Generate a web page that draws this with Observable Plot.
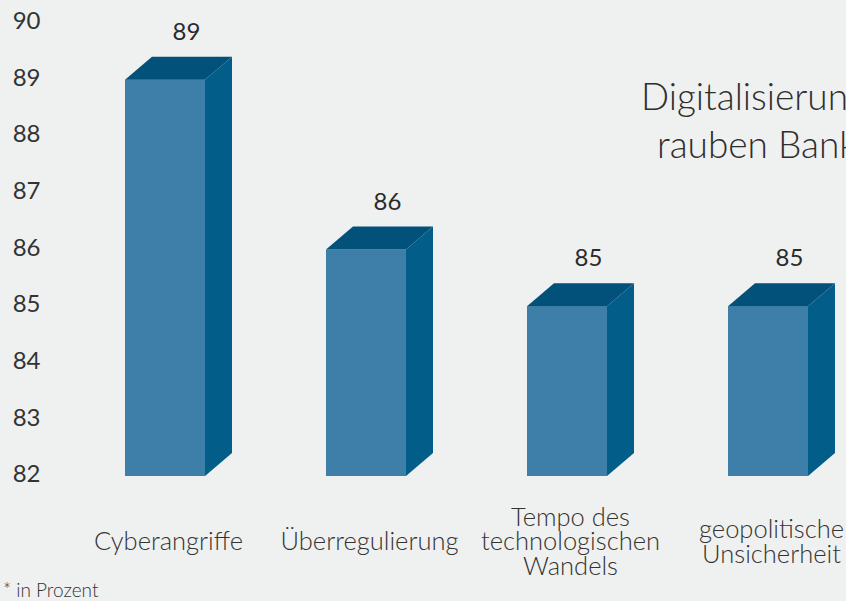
<!DOCTYPE html>
<html>
<head>
<meta charset="utf-8">
<script src="https://cdn.jsdelivr.net/npm/d3@7"></script>
<script src="https://cdn.jsdelivr.net/npm/@observablehq/plot@0.6"></script>
<style>
  html, body { margin: 0; padding: 0; background: #eff0f0; }
  #wrap { position: relative; width: 846px; height: 601px; overflow: hidden; background: #eff0f0; }
  #title { position: absolute; left: 641px; top: 72px; font-family: Lato, sans-serif; font-weight: 300;
           font-size: 37px; line-height: 48px; color: #2e2e2e; white-space: nowrap; }
  #note { position: absolute; left: 3px; top: 579px; font-family: Lato, sans-serif; font-weight: 300;
          font-size: 19px; line-height: 22px; color: #333; }
</style>
</head>
<body>
<div id="wrap">
  <div id="chart"></div>
  <div id="title"><div>Digitalisierung</div><div style="padding-left:16px">rauben Banken</div></div>
  <div id="note">* in Prozent</div>
</div>
<script>
const categories = ["Cyberangriffe", "Überregulierung", "Tempo des technologischen Wandels", "geopolitische Unsicherheit"];
const categoryLabels = ["Cyberangriffe", "Überregulierung", "Tempo des\ntechnologischen\nWandels", "geopolitische\nUnsicherheit"];
const values = [89, 86, 85, 85];
const yTicks = [82, 83, 84, 85, 86, 87, 88, 89, 90];

const data = categories.map((c, i) => ({category: c, label: categoryLabels[i], value: values[i]}));
const base = yTicks[0];

const FRONT = "#3d7fa8", TOP = "#01517a", SIDE = "#035d89";
const DEPTH_X = 27, DEPTH_Y = 23;

function faces(index, scales, vals) {
  const bw = scales.x.bandwidth();
  const g = d3.create("svg:g");
  for (const i of index) {
    const x0 = vals.x[i], x1 = x0 + bw;
    const yt = Math.min(vals.y1[i], vals.y2[i]);
    const yb = Math.max(vals.y1[i], vals.y2[i]);
    g.append("polygon")
      .attr("points", [[x0, yt], [x0 + DEPTH_X, yt - DEPTH_Y], [x1 + DEPTH_X, yt - DEPTH_Y], [x1, yt]].join(" "))
      .attr("fill", TOP);
    g.append("polygon")
      .attr("points", [[x1, yt], [x1 + DEPTH_X, yt - DEPTH_Y], [x1 + DEPTH_X, yb - DEPTH_Y], [x1, yb]].join(" "))
      .attr("fill", SIDE);
  }
  return g.node();
}

const chart = Plot.plot({
  width: 846,
  height: 580,
  marginTop: 23,
  marginBottom: 104,
  marginLeft: 104,
  marginRight: 16,
  style: {background: "transparent", fontFamily: "Lato, sans-serif", color: "#333", overflow: "visible"},
  x: {domain: categories, paddingInner: 0.6, paddingOuter: 0.1, axis: null},
  y: {domain: [base, yTicks[yTicks.length - 1]], axis: null},
  marks: [
    Plot.axisY({ticks: yTicks, tickSize: 0, tickPadding: 64, fontSize: 24, dy: -2, fill: "#333", label: null}),
    Plot.barY(data, {x: "category", y1: () => base, y2: "value", fill: FRONT}),
    Plot.barY(data, {x: "category", y1: () => base, y2: "value", render: faces}),
    Plot.text(data, {x: "category", y: "value", text: d => String(d.value), dx: 21, dy: -48,
                     fontSize: 24, fill: "#2b2b2b", lineAnchor: "middle"}),
    Plot.text(data, {x: "category", y: () => base, text: "label", dx: 3, dy: 66,
                     fontSize: 25.5, fontWeight: 300, lineHeight: 0.97, lineAnchor: "middle", fill: "#333"})
  ]
});
document.getElementById("chart").appendChild(chart);
</script>
</body>
</html>
